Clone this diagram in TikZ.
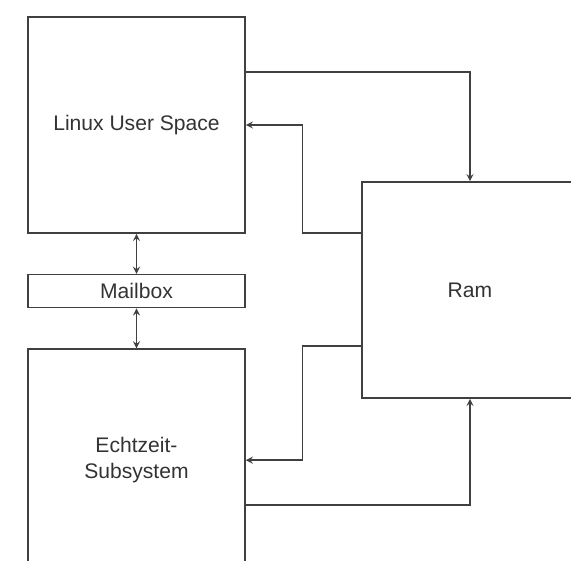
\documentclass[tikz,border=0pt]{standalone}
\usepackage{fontspec}
\setmainfont{Liberation Sans}
\usepackage{tikz}
\usetikzlibrary{arrows,positioning,calc}

\begin{document}
\begin{tikzpicture}[
    node distance=0.8cm,
    block/.style={rectangle, draw=black!75, line width=0.9pt, minimum width=4.34cm, font=\fontsize{12}{14.5}\selectfont, text=black!80, align=center},
    link/.style={->, >=stealth, draw=black!75, line width=0.8pt},
    dlink/.style={<->, >=stealth, draw=black!75, line width=0.8pt}
]
% Frame of the picture
\clip (0,0) rectangle (11.42,-11.22);

% Blocks
\node[block, minimum height=4.32cm] (linux) at (2.73,-2.50) {Linux User Space};
\node[block, minimum height=0.66cm, below=0.8cm of linux] (mailbox) {Mailbox};
\node[block, minimum height=4.44cm, below=0.8cm of mailbox] (rt) {Echtzeit-\\Subsystem};
\node[block, minimum width=4.32cm, minimum height=4.32cm] (ram) at (9.40,-5.80) {Ram};

% Mailbox links
\draw[dlink] (linux) -- (mailbox);
\draw[dlink] (mailbox) -- (rt);

% Linux <-> Ram
\draw[link] ([yshift=1.06cm]linux.east) -| (ram.north);
\draw[link] ([yshift=1.14cm]ram.west) -- ++(-1.18,0) |- (linux.east);

% Echtzeit <-> Ram
\draw[link] ([yshift=-1.12cm]ram.west) -- ++(-1.18,0) |- (rt.east);
\draw[link] ([yshift=-0.90cm]rt.east) -| (ram.south);
\end{tikzpicture}
\end{document}
